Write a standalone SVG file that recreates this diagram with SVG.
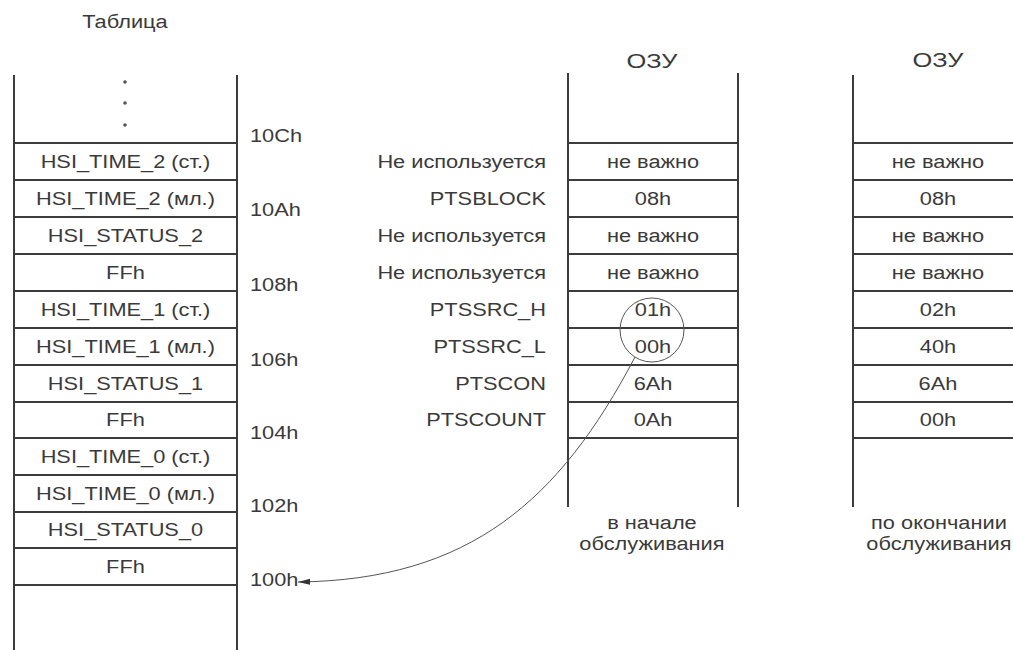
<svg xmlns="http://www.w3.org/2000/svg" width="1013" height="650" viewBox="0 0 1013 650">
<style>
.ln{stroke:#3c3c3c;stroke-width:2;fill:none}
.t{font-family:"Liberation Sans",Arial,sans-serif;font-size:18px;fill:#3a3a3a}
.m{text-anchor:middle}
.e{text-anchor:end}
.thin{stroke:#555;stroke-width:1;fill:none}
</style>
<defs>
<marker id="ah" markerWidth="14" markerHeight="8" refX="13" refY="4" orient="auto" markerUnits="userSpaceOnUse">
<path d="M1,1 L13,4 L1,7 Z" fill="#333"/>
</marker>
</defs>
<rect width="1013" height="650" fill="#fff"/>

<g id="table">
<path class="ln" d="M14,75 V650 M237,75 V650"/>
<path class="ln" d="M14,143H237 M14,180H237 M14,217H237 M14,254H237 M14,291H237 M14,328H237 M14,365H237 M14,402H237 M14,438H237 M14,475H237 M14,512H237 M14,548H237 M14,585H237"/>
<g fill="#555"><circle cx="125" cy="82" r="1.8"/><circle cx="125" cy="103" r="1.8"/><circle cx="125" cy="125" r="1.8"/></g>
<g transform="scale(1.21,1)">
<text class="t m" x="103.3" y="28">Таблица</text>
<text class="t m" x="103.7" y="168">HSI_TIME_2 (ст.)</text>
<text class="t m" x="103.7" y="205">HSI_TIME_2 (мл.)</text>
<text class="t m" x="103.7" y="242">HSI_STATUS_2</text>
<text class="t m" x="103.7" y="279">FFh</text>
<text class="t m" x="103.7" y="316">HSI_TIME_1 (ст.)</text>
<text class="t m" x="103.7" y="353">HSI_TIME_1 (мл.)</text>
<text class="t m" x="103.7" y="390">HSI_STATUS_1</text>
<text class="t m" x="103.7" y="426">FFh</text>
<text class="t m" x="103.7" y="463">HSI_TIME_0 (ст.)</text>
<text class="t m" x="103.7" y="500">HSI_TIME_0 (мл.)</text>
<text class="t m" x="103.7" y="536">HSI_STATUS_0</text>
<text class="t m" x="103.7" y="573">FFh</text>
<text class="t" x="206.6" y="142">10Ch</text>
<text class="t" x="206.6" y="216">10Ah</text>
<text class="t" x="206.6" y="291">108h</text>
<text class="t" x="206.6" y="366">106h</text>
<text class="t" x="206.6" y="439">104h</text>
<text class="t" x="206.6" y="512">102h</text>
<text class="t" x="206.6" y="586">100h</text>
</g>
</g>

<g id="ram-start">
<path class="ln" d="M568,73 V507 M738,73 V507"/>
<path class="ln" d="M568,143H738 M568,180H738 M568,217H738 M568,254H738 M568,291H738 M568,328H738 M568,365H738 M568,402H738 M568,438H738"/>
<g transform="scale(1.21,1)">
<text class="t m" x="538.8" y="68" style="font-size:21px">ОЗУ</text>
<text class="t e" x="451.2" y="168">Не используется</text>
<text class="t e" x="451.2" y="205">PTSBLOCK</text>
<text class="t e" x="451.2" y="242">Не используется</text>
<text class="t e" x="451.2" y="279">Не используется</text>
<text class="t e" x="451.2" y="316">PTSSRC_H</text>
<text class="t e" x="451.2" y="353">PTSSRC_L</text>
<text class="t e" x="451.2" y="390">PTSCON</text>
<text class="t e" x="451.2" y="426">PTSCOUNT</text>
<text class="t m" x="539.7" y="168">не важно</text>
<text class="t m" x="539.7" y="205">08h</text>
<text class="t m" x="539.7" y="242">не важно</text>
<text class="t m" x="539.7" y="279">не важно</text>
<text class="t m" x="539.7" y="316">01h</text>
<text class="t m" x="539.7" y="353">00h</text>
<text class="t m" x="539.7" y="390">6Ah</text>
<text class="t m" x="539.7" y="426">0Ah</text>
<text class="t m" x="538.8" y="529">в начале</text>
<text class="t m" x="538.8" y="550">обслуживания</text>
</g>
</g>

<g id="ram-end">
<path class="ln" d="M853,75 V507"/>
<path class="ln" d="M853,143H1013 M853,180H1013 M853,217H1013 M853,254H1013 M853,291H1013 M853,328H1013 M853,365H1013 M853,402H1013 M853,438H1013"/>
<g transform="scale(1.21,1)">
<text class="t m" x="775.2" y="67" style="font-size:21px">ОЗУ</text>
<text class="t m" x="775.2" y="168">не важно</text>
<text class="t m" x="775.2" y="205">08h</text>
<text class="t m" x="775.2" y="242">не важно</text>
<text class="t m" x="775.2" y="279">не важно</text>
<text class="t m" x="775.2" y="316">02h</text>
<text class="t m" x="775.2" y="353">40h</text>
<text class="t m" x="775.2" y="390">6Ah</text>
<text class="t m" x="775.2" y="426">00h</text>
<text class="t m" x="776" y="529">по окончании</text>
<text class="t m" x="776" y="550">обслуживания</text>
</g>
</g>

<g id="connectors">
<circle class="thin" cx="652" cy="330" r="32"/>
<path class="thin" d="M635,357 C560,500 470,580 298,582" marker-end="url(#ah)"/>
</g>
</svg>
